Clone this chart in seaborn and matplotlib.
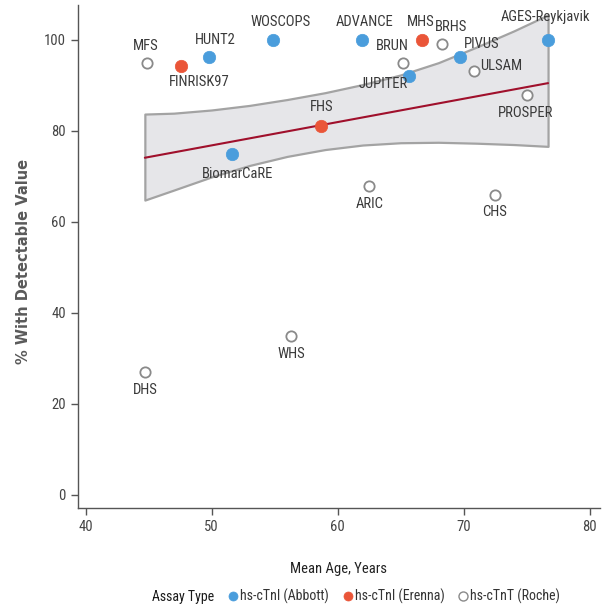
import matplotlib
matplotlib.use("Agg")
import matplotlib.pyplot as plt
from matplotlib.lines import Line2D
import seaborn as sns
import pandas as pd

# ---- data ----
studies = ["MFS", "FINRISK97", "HUNT2", "WOSCOPS", "ADVANCE", "MHS", "BRHS", "BRUN",
           "JUPITER", "PIVUS", "ULSAM", "AGES-Reykjavik", "PROSPER", "FHS", "BiomarCaRE",
           "ARIC", "CHS", "WHS", "DHS"]
mean_age = [44.9, 47.6, 49.8, 54.9, 61.9, 66.7, 68.3, 65.2,
            65.7, 69.7, 70.8, 76.7, 75.0, 58.7, 51.6,
            62.5, 72.5, 56.3, 44.7]
pct_detect = [95, 94.3, 96.3, 100, 100, 100, 99, 95,
              92, 96.3, 93.2, 100, 88, 81, 75,
              68, 66, 35, 27]
assay = ["hs-cTnT (Roche)", "hs-cTnI (Erenna)", "hs-cTnI (Abbott)", "hs-cTnI (Abbott)",
         "hs-cTnI (Abbott)", "hs-cTnI (Erenna)", "hs-cTnT (Roche)", "hs-cTnT (Roche)",
         "hs-cTnI (Abbott)", "hs-cTnI (Abbott)", "hs-cTnT (Roche)", "hs-cTnI (Abbott)",
         "hs-cTnT (Roche)", "hs-cTnI (Erenna)", "hs-cTnI (Abbott)",
         "hs-cTnT (Roche)", "hs-cTnT (Roche)", "hs-cTnT (Roche)", "hs-cTnT (Roche)"]

# meta-regression fit line and confidence band
band_x = [44.7, 47, 50, 53, 56, 59, 62, 65, 68, 71, 74, 76.7]
band_upper = [83.7, 83.9, 84.6, 85.6, 86.9, 88.4, 90.2, 92.3, 95.0, 98.4, 102.0, 105.5]
band_lower = [64.8, 67.0, 69.9, 72.4, 74.4, 75.9, 76.9, 77.4, 77.5, 77.3, 77.0, 76.6]
line_x = [44.7, 76.7]
line_y = [74.1, 90.5]

assay_types = ["hs-cTnI (Abbott)", "hs-cTnI (Erenna)", "hs-cTnT (Roche)"]
x_ticks = [40, 50, 60, 70, 80]
y_ticks = [0, 20, 40, 60, 80, 100]

df = pd.DataFrame({"study": studies, "age": mean_age, "pct": pct_detect, "assay": assay})

# ---- styling ----
sns.set_theme(style="white")
cond = ["Roboto Condensed", "DejaVu Sans"]
plt.rcParams["font.family"] = cond

colors = {"hs-cTnI (Abbott)": "#4a9ddc", "hs-cTnI (Erenna)": "#ea5538", "hs-cTnT (Roche)": "white"}
edges = {"hs-cTnI (Abbott)": "#4a9ddc", "hs-cTnI (Erenna)": "#ea5538", "hs-cTnT (Roche)": "#8a8a8a"}
sizes = {"hs-cTnI (Abbott)": 80, "hs-cTnI (Erenna)": 80, "hs-cTnT (Roche)": 55}

# label offsets in pixels (dx, dy) relative to the point
offsets = {"MFS": (-2, 17), "FINRISK97": (18, -16), "HUNT2": (6, 17), "WOSCOPS": (7, 18),
           "ADVANCE": (3, 18), "MHS": (-1, 18), "BRHS": (9, 17), "BRUN": (-11, 17),
           "JUPITER": (-26, -8), "PIVUS": (22, 13), "ULSAM": (27, 5), "AGES-Reykjavik": (-3, 23),
           "PROSPER": (-1, -18), "FHS": (0, 19), "BiomarCaRE": (6, -20), "ARIC": (1, -18),
           "CHS": (-1, -17), "WHS": (0, -18), "DHS": (0, -18)}

fig = plt.figure(figsize=(6.07, 6.09), dpi=100)
ax = fig.add_axes([0.128, 0.166, 0.86, 0.826])

ax.fill_between(band_x, band_lower, band_upper, facecolor="#e6e6e9", edgecolor="#a3a3a3",
                linewidth=1.6, zorder=1)
sns.lineplot(x=line_x, y=line_y, ax=ax, color="#a0102c", linewidth=1.5, zorder=2)

for a in assay_types:
    sub = df[df["assay"] == a]
    sns.scatterplot(data=sub, x="age", y="pct", ax=ax, s=sizes[a], color=colors[a],
                    edgecolor=edges[a], linewidth=1.3 if a.endswith("(Roche)") else 0.5,
                    zorder=3, legend=False)

for _, r in df.iterrows():
    dx, dy = offsets[r["study"]]
    ax.annotate(r["study"], (r["age"], r["pct"]), xytext=(dx, dy), textcoords="offset pixels",
                ha="center", va="center", fontsize=10.5, color="#3a3a3a", zorder=4)

ax.set_xlim(39.37, 80.8)
ax.set_ylim(-2.86, 107.7)
ax.set_xticks(x_ticks)
ax.set_yticks(y_ticks)
for s in ["top", "right"]:
    ax.spines[s].set_visible(False)
for s in ["left", "bottom"]:
    ax.spines[s].set_color("#555555")
    ax.spines[s].set_linewidth(1.0)
ax.tick_params(axis="both", direction="out", length=5, width=1, color="#555555",
               labelsize=10.5, labelcolor="#444444", bottom=True, left=True)

ax.set_xlabel("Mean Age, Years", fontsize=10.5, color="#222222", fontweight="normal")
ax.xaxis.set_label_coords(0.5, -0.107)
ax.set_ylabel("% With Detectable Value", fontsize=10.5, color="#5a5a5a", fontweight="bold",
              family=["DejaVu Sans"])
ax.yaxis.set_label_coords(-0.09, 0.49)

handles = [Line2D([], [], linestyle="none", marker="o", markersize=0, label="Assay Type")]
for a in assay_types:
    handles.append(Line2D([], [], linestyle="none", marker="o", markersize=6.5,
                          markerfacecolor=colors[a], markeredgecolor=edges[a],
                          markeredgewidth=1.0 if a.endswith("(Roche)") else 0.5, label=a))
leg = fig.legend(handles=handles, loc="center", bbox_to_anchor=(0.577, 0.02), ncol=4,
                 frameon=False, fontsize=10, handletextpad=0.15, columnspacing=1.0,
                 handlelength=0.7)
for t in leg.get_texts():
    t.set_color("#333333")
leg.get_texts()[0].set_color("#1a1a1a")

fig.savefig("out.png", dpi=100)
